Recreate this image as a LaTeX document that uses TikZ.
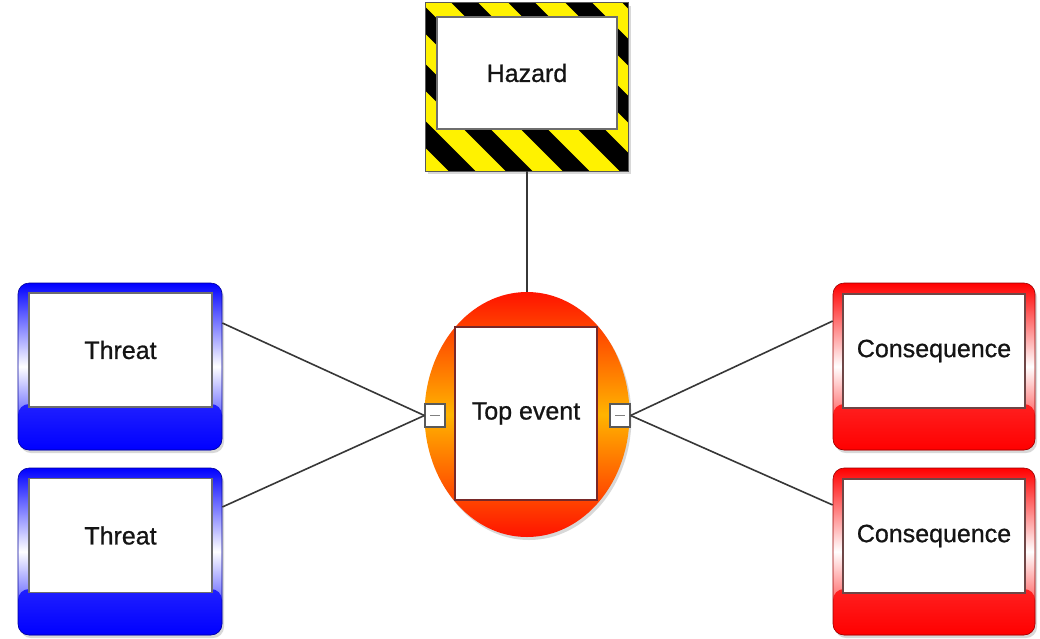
\documentclass[tikz,border=0pt]{standalone}
\usepackage{fontspec}
\setmainfont{Liberation Sans}
\newfontfamily\lblfont[FakeBold=0.8]{Liberation Sans}
\usetikzlibrary{shapes.geometric,shadows}
\definecolor{tblue}{RGB}{0,0,255}
\definecolor{tred}{RGB}{255,0,0}
\definecolor{teorange}{RGB}{255,180,0}
\definecolor{hyellow}{RGB}{255,242,0}
\definecolor{lineg}{RGB}{55,55,55}
\definecolor{txt}{RGB}{20,20,20}
\definecolor{teborder}{RGB}{120,40,40}
\definecolor{cborder}{RGB}{110,70,70}
\definecolor{gborder}{RGB}{110,110,110}
\pgfdeclareverticalshading{teshade}{100bp}{color(0bp)=(tred); color(22bp)=(tred); color(50bp)=(teorange); color(78bp)=(tred); color(100bp)=(tred)}
\tikzset{
  shadowed/.style={drop shadow={shadow xshift=2pt, shadow yshift=-3pt, fill=black!30, opacity=0.5}},
  outerbox/.style={rectangle, rounded corners=11pt, minimum width=204pt, minimum height=167pt,
    inner sep=0pt, draw=#1!60!black, line width=0.6pt, shadowed,
    top color=#1, bottom color=#1, middle color=white,
    path picture={\shade[top color=#1!55!white, bottom color=#1]
      ([yshift=46pt]path picture bounding box.south west) rectangle (path picture bounding box.south east);}},
  innerbox/.style={rectangle, fill=white, draw=#1, line width=1.3pt, minimum width=183pt,
    minimum height=114pt, inner sep=0pt, text=txt, font=\lblfont\fontsize{25}{30}\selectfont},
  conn/.style={draw=lineg, line width=1.6pt},
  tinysq/.style={rectangle, fill=white, draw=gray!70!black, line width=1.2pt, minimum width=20pt,
    minimum height=23pt, inner sep=0pt,
    path picture={\draw[gray, line width=1.2pt] ([xshift=-5pt]path picture bounding box.center) -- ([xshift=5pt]path picture bounding box.center);}}
}
\begin{document}
\begin{tikzpicture}[x=1pt,y=-1pt]
\useasboundingbox (0,0) rectangle (1040,638);
\fill[white] (0,0) rectangle (1040,638);

% Hazard
\node[rectangle, minimum width=203pt, minimum height=168pt, inner sep=0pt, fill=hyellow, shadowed] (hz) at (527,87) {};
\begin{scope}
  \clip (425.5,3) rectangle (628.5,171);
  \foreach \k in {-7,...,6} {
    \draw[black, line width=19pt] (328+57*\k,-20) -- (328+57*\k+220,200);
  }
\end{scope}
\draw[gray!70!black, line width=1pt] (hz.south west) rectangle (hz.north east);
\node[innerbox=gborder, minimum width=180pt, minimum height=112pt] (hzin) at (527,73) {Hazard};

% Top event
\node[ellipse, minimum width=205pt, minimum height=245pt, inner sep=0pt, shading=teshade, shadowed] (te) at (527,414.5) {};
\node[innerbox=teborder, minimum width=142pt, minimum height=173pt] (tein) at (526,413.5) {Top event};
\node[tinysq] (lsq) at (435,415.5) {};
\node[tinysq] (rsq) at (620,415.5) {};

% Threats
\node[outerbox=tblue] (t1) at (120,366.5) {};
\node[innerbox=gborder] (t1in) at (120.5,350) {Threat};
\node[outerbox=tblue] (t2) at (120,551.5) {};
\node[innerbox=gborder] (t2in) at (120.5,535.5) {Threat};

% Consequences
\node[outerbox=tred, minimum width=202pt] (c1) at (934,366.5) {};
\node[innerbox=cborder, minimum width=182pt] (c1in) at (934,351) {Consequence};
\node[outerbox=tred, minimum width=202pt] (c2) at (934,551.5) {};
\node[innerbox=cborder, minimum width=182pt] (c2in) at (934,536) {Consequence};

% Connectors
\draw[conn] (hz.south) -- (te.north);
\draw[conn] ([yshift=43.5pt]t1.east) -- (lsq.west);
\draw[conn] ([yshift=44.5pt]t2.east) -- (lsq.west);
\draw[conn] (rsq.east) -- ([yshift=45.5pt]c1.west);
\draw[conn] (rsq.east) -- ([yshift=46.5pt]c2.west);
\end{tikzpicture}
\end{document}
